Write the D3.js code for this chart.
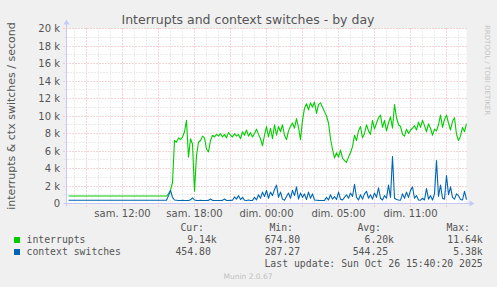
<!DOCTYPE html>
<html>
<head>
<meta charset="utf-8">
<script src="https://cdn.jsdelivr.net/npm/d3@7"></script>
<style>
  html, body { margin: 0; padding: 0; background: #f0f0f0; }
  svg { display: block; }
  text { font-family: "DejaVu Sans", sans-serif; fill: #555; }
  .mono { font-family: "DejaVu Sans Mono", monospace; }
</style>
</head>
<body>
<div id="chart"></div>
<script>
// data - 10 minute samples, first one at startHour (hours since sat 00:00 CEST)
var startHour = 7.5,
    stepHours = 1 / 6;

var interrupts = [
    850, 850, 850, 850, 850, 850, 850, 850, 850, 850,
    850, 850, 850, 850, 850, 850, 850, 850, 850, 850,
    850, 850, 850, 850, 850, 850, 850, 850, 850, 850,
    850, 850, 850, 850, 850, 850, 850, 850, 850, 850,
    850, 850, 850, 850, 850, 850, 850, 850, 850, 850,
    1100, 1500, 2400, 7200, 7000, 7500, 7300, 7600, 8200, 9500,
    5300, 7400, 6800, 1400, 5500, 7000, 7200, 7700, 7500, 6200,
    5900, 7200, 7800, 7600, 7900, 7700, 8000, 7600, 7900, 7500,
    8100, 7800, 7600, 8000, 7700, 7900, 7400, 8200, 7800, 8400,
    7700, 8100, 7600, 8000, 8500, 7900, 7400, 6600, 7800, 8800,
    7600, 8600, 7400, 9000, 7800, 8800, 8200, 9000, 7800, 7300,
    8300, 8800, 9200, 8600, 9700, 8700, 7300, 9500, 10900, 11400,
    10700, 11500, 11000, 11600, 10300, 11300, 11500, 11000, 10500, 10000,
    9200, 7400, 6200, 5200, 5800, 5300, 6100, 5200, 4900, 4700,
    5300, 5800, 6500, 7800, 7200, 8300, 8800, 7500, 8000, 9000,
    8300, 7900, 9500, 8500, 9200, 9800, 10100, 8700, 9500, 8300,
    9200, 9900, 8600, 11300, 9800, 9000, 8800, 7900, 7700, 8500,
    8000, 8400, 8600, 8900, 8400, 9300, 8700, 9500, 8900, 8200,
    9100, 8600, 7800, 8500, 8300, 9000, 10100, 8700, 9600, 10100,
    9200, 8400, 9400, 9800, 7900, 7200, 7700, 8700, 8200, 9140
];

var contextSwitches = [
    380, 380, 380, 380, 380, 380, 380, 380, 380, 380,
    380, 380, 380, 380, 380, 380, 380, 380, 380, 380,
    380, 380, 380, 380, 380, 380, 380, 380, 380, 380,
    380, 380, 380, 380, 380, 380, 380, 380, 380, 380,
    380, 380, 380, 380, 380, 380, 380, 380, 380, 380,
    900, 1500, 700, 400, 380, 350, 350, 360, 350, 340,
    350, 420, 650, 400, 360, 350, 380, 350, 340, 350,
    360, 520, 360, 350, 350, 340, 350, 360, 520, 350,
    340, 360, 380, 750, 500, 900, 450, 700, 380, 350,
    400, 350, 360, 700, 420, 1000, 600, 1300, 800, 1500,
    600, 1300, 900, 1600, 2100, 700, 1300, 500, 380, 800,
    1200, 600, 1500, 900, 1900, 500, 1200, 700, 1100, 450,
    1300, 600, 1100, 400, 380, 360, 350, 350, 360, 700,
    400, 1000, 500, 800, 450, 1300, 500, 400, 700, 1000,
    600, 1200, 800, 2200, 700, 400, 1000, 500, 1100, 1400,
    600, 1000, 500, 1200, 700, 1800, 600, 400, 900, 600,
    2100, 700, 5380, 600, 450, 400, 380, 1100, 600, 1300,
    700, 1500, 1900, 600, 900, 400, 380, 600, 400, 1700,
    500, 900, 400, 1100, 4900, 800, 2100, 600, 500, 3200,
    1000, 1900, 700, 500, 1100, 900, 450, 400, 1400, 455
];

var seriesNames = ["interrupts", "context switches"],
    seriesColors = ["#00cc00", "#0066b3"];

var legendHeader = ["Cur:", "Min:", "Avg:", "Max:"],
    legendRows = [
        ["9.14k", "674.80 ", "6.20k", "11.64k"],
        ["454.80 ", "287.27 ", "544.25 ", "5.38k"]
    ];

var yTicks = [0, 2000, 4000, 6000, 8000, 10000, 12000, 14000, 16000, 18000, 20000],
    yTickLabels = ["0", "2 k", "4 k", "6 k", "8 k", "10 k", "12 k", "14 k", "16 k", "18 k", "20 k"];

var xTickHours = [12, 18, 24, 30, 36],
    xTickLabels = ["sam. 12:00", "sam. 18:00", "dim. 00:00", "dim. 05:00", "dim. 11:00"];

// layout
var W = 497, H = 287,
    plot = { left: 66.5, right: 466.5, top: 28.5, bottom: 203.5 };

var x = d3.scaleLinear().domain([7.3333, 40.6667]).range([plot.left, plot.right]),
    y = d3.scaleLinear().domain([0, 20000]).range([plot.bottom, plot.top]);

var svg = d3.select("#chart").append("svg")
    .attr("width", W)
    .attr("height", H);

svg.append("rect").attr("width", W).attr("height", H).attr("fill", "#f0f0f0");
svg.append("rect")
    .attr("x", plot.left).attr("y", plot.top)
    .attr("width", plot.right - plot.left).attr("height", plot.bottom - plot.top)
    .attr("fill", "#ffffff");

function crisp(v) {
    return Math.round(v - 0.5) + 0.5;
}

// grid lines
var grid = svg.append("g").attr("class", "grid");

var minorY = d3.range(1000, 20001, 2000),
    minorX = d3.range(8, 41, 1).filter(function (h) { return h % 3 !== 0; }),
    majorX = d3.range(9, 41, 3);

var minorColor = "#d6d6d6",
    majorColor = "#eaaaaa";

grid.selectAll("line.minor-y").data(minorY).enter().append("line")
    .attr("x1", plot.left - 2).attr("x2", plot.right)
    .attr("y1", function (d) { return crisp(y(d)); })
    .attr("y2", function (d) { return crisp(y(d)); })
    .attr("stroke", minorColor).attr("stroke-dasharray", "1,2");

grid.selectAll("line.minor-x").data(minorX).enter().append("line")
    .attr("y1", plot.top).attr("y2", plot.bottom + 2)
    .attr("x1", function (d) { return crisp(x(d)); })
    .attr("x2", function (d) { return crisp(x(d)); })
    .attr("stroke", minorColor).attr("stroke-dasharray", "1,2");

grid.selectAll("line.major-y").data(yTicks.slice(1)).enter().append("line")
    .attr("x1", plot.left - 3).attr("x2", plot.right)
    .attr("y1", function (d) { return crisp(y(d)); })
    .attr("y2", function (d) { return crisp(y(d)); })
    .attr("stroke", majorColor).attr("stroke-dasharray", "1,2");

grid.selectAll("line.major-x").data(majorX).enter().append("line")
    .attr("y1", plot.top).attr("y2", plot.bottom + 3)
    .attr("x1", function (d) { return crisp(x(d)); })
    .attr("x2", function (d) { return crisp(x(d)); })
    .attr("stroke", majorColor).attr("stroke-dasharray", "1,2");

// axis labels
svg.selectAll("text.ytick").data(yTicks).enter().append("text")
    .attr("x", 60)
    .attr("y", function (d) { return y(d) + 3.5; })
    .attr("text-anchor", "end")
    .style("font-size", "10px")
    .text(function (d, i) { return yTickLabels[i]; });

svg.selectAll("text.xtick").data(xTickHours).enter().append("text")
    .attr("x", function (d) { return x(d); })
    .attr("y", 217)
    .attr("text-anchor", "middle")
    .style("font-size", "10px")
    .text(function (d, i) { return xTickLabels[i]; });

// series
var line = d3.line()
    .x(function (d, i) { return x(startHour + i * stepHours); })
    .y(function (d) { return y(d); });

[interrupts, contextSwitches].forEach(function (values, k) {
    svg.append("path")
        .datum(values)
        .attr("d", line)
        .attr("fill", "none")
        .attr("stroke", seriesColors[k])
        .attr("stroke-width", 1.1)
        .attr("stroke-linejoin", "round");
});

// axes with arrows
var axisColor = "#c8c8f8";
svg.append("line")
    .attr("x1", plot.left - 3).attr("x2", plot.right + 4)
    .attr("y1", plot.bottom).attr("y2", plot.bottom)
    .attr("stroke", axisColor);
svg.append("line")
    .attr("x1", plot.left).attr("x2", plot.left)
    .attr("y1", plot.bottom + 3).attr("y2", plot.top - 5)
    .attr("stroke", axisColor);
svg.append("path")
    .attr("d", "M" + (plot.right + 8) + "," + plot.bottom + "l-5,-3l0,6z")
    .attr("fill", axisColor);
svg.append("path")
    .attr("d", "M" + plot.left + "," + (plot.top - 9) + "l-3,5l6,0z")
    .attr("fill", axisColor);

// title and side texts
svg.append("text")
    .attr("x", 248).attr("y", 24)
    .attr("text-anchor", "middle")
    .style("font-size", "12.5px")
    .text("Interrupts and context switches - by day");

svg.append("text")
    .attr("transform", "translate(14.5," + ((plot.top + plot.bottom) / 2) + ") rotate(-90)")
    .attr("text-anchor", "middle")
    .style("font-size", "11px")
    .text("interrupts & ctx switches / second");

svg.append("text")
    .attr("transform", "translate(485,25) rotate(90)")
    .attr("text-anchor", "start")
    .style("font-size", "7px")
    .style("fill", "#c4c4c4")
    .text("RRDTOOL / TOBI OETIKER");

// legend
var headerRight = [204, 293, 381, 470],
    valueRight = [216.7, 306, 394, 482.7];

svg.selectAll("text.lh").data(legendHeader).enter().append("text")
    .attr("class", "mono")
    .attr("x", function (d, i) { return headerRight[i]; })
    .attr("y", 231)
    .attr("text-anchor", "end")
    .style("font-size", "9.8px")
    .style("white-space", "pre")
    .text(function (d) { return d; });

seriesNames.forEach(function (name, k) {
    var rowY = 243 + k * 12;
    svg.append("rect")
        .attr("x", 14).attr("y", rowY - 6)
        .attr("width", 6).attr("height", 6)
        .attr("fill", seriesColors[k]);
    svg.append("text")
        .attr("class", "mono")
        .attr("x", 26.5).attr("y", rowY)
        .style("font-size", "9.8px")
        .text(name);
    svg.selectAll("text.lv" + k).data(legendRows[k]).enter().append("text")
        .attr("class", "mono")
        .attr("x", function (d, i) { return valueRight[i]; })
        .attr("y", rowY)
        .attr("text-anchor", "end")
        .attr("xml:space", "preserve")
        .style("white-space", "pre")
        .style("font-size", "9.8px")
        .text(function (d) { return d; });
});

svg.append("text")
    .attr("class", "mono")
    .attr("x", 482.7).attr("y", 267)
    .attr("text-anchor", "end")
    .style("font-size", "9.8px")
    .text("Last update: Sun Oct 26 15:40:20 2025");

svg.append("text")
    .attr("x", 248).attr("y", 279)
    .attr("text-anchor", "middle")
    .style("font-size", "7.5px")
    .style("fill", "#c0c0c0")
    .text("Munin 2.0.67");
</script>
</body>
</html>
